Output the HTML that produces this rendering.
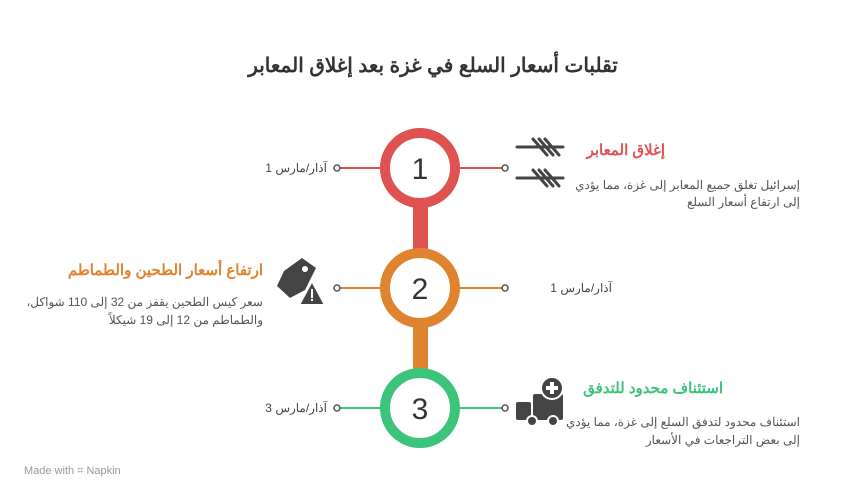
<!DOCTYPE html>
<html><head><meta charset="utf-8"><style>
body{margin:0;background:#fff;width:866px;height:498px;overflow:hidden}
svg text{font-family:"Liberation Sans","Noto Sans CJK SC",sans-serif}
</style></head><body>
<svg width="866" height="498" viewBox="0 0 866 498">
<text x="433" y="72" text-anchor="middle" font-size="20" font-weight="bold" fill="#333" direction="rtl">تقلبات أسعار السلع في غزة بعد إغلاق المعابر</text>
<!-- bars -->
<rect x="413" y="206" width="15" height="44" fill="#e05252"/>
<rect x="413" y="326" width="15" height="44" fill="#e0832f"/>
<!-- lines -->
<g stroke-width="2">
<line x1="340" y1="168" x2="382" y2="168" stroke="#e05252"/>
<line x1="458" y1="168" x2="502" y2="168" stroke="#e05252"/>
<line x1="340" y1="288" x2="382" y2="288" stroke="#e0832f"/>
<line x1="458" y1="288" x2="502" y2="288" stroke="#e0832f"/>
<line x1="340" y1="408" x2="382" y2="408" stroke="#3cc47c"/>
<line x1="458" y1="408" x2="502" y2="408" stroke="#3cc47c"/>
</g>
<g fill="#fff" stroke="#555" stroke-width="1.5">
<circle cx="337" cy="168" r="3"/><circle cx="505" cy="168" r="3"/>
<circle cx="337" cy="288" r="3"/><circle cx="505" cy="288" r="3"/>
<circle cx="337" cy="408" r="3"/><circle cx="505" cy="408" r="3"/>
</g>
<circle cx="420" cy="168" r="35" fill="#fff" stroke="#e05252" stroke-width="10"/>
<circle cx="420" cy="288" r="35" fill="#fff" stroke="#e0832f" stroke-width="10"/>
<circle cx="420" cy="408" r="35" fill="#fff" stroke="#3cc47c" stroke-width="10"/>
<g font-size="30" fill="#333" text-anchor="middle">
<text x="420" y="179">1</text><text x="420" y="299">2</text><text x="420" y="419">3</text>
</g>
<g font-size="12" fill="#444" direction="rtl">
<text x="327" y="172" text-anchor="start">آذار/مارس 1</text>
<text x="612" y="292" text-anchor="start">آذار/مارس 1</text>
<text x="327" y="412" text-anchor="start">آذار/مارس 3</text>
</g>
<!-- texts -->
<g direction="rtl">
<text x="665" y="155" font-size="15" font-weight="bold" fill="#e05252">إغلاق المعابر</text>
<text x="800" y="189" font-size="12" fill="#555">إسرائيل تغلق جميع المعابر إلى غزة، مما يؤدي</text>
<text x="800" y="206" font-size="12" fill="#555">إلى ارتفاع أسعار السلع</text>
<text x="263" y="275" font-size="15" font-weight="bold" fill="#e0832f">ارتفاع أسعار الطحين والطماطم</text>
<text x="263" y="306" font-size="12" fill="#555">سعر كيس الطحين يقفز من 32 إلى 110 شواكل،</text>
<text x="263" y="324" font-size="12" fill="#555">والطماطم من 12 إلى 19 شيكلاً</text>
<text x="723" y="393" font-size="15" font-weight="bold" fill="#3cc47c">استئناف محدود للتدفق</text>
<text x="800" y="426" font-size="12" fill="#555">استئناف محدود لتدفق السلع إلى غزة، مما يؤدي</text>
<text x="800" y="444" font-size="12" fill="#555">إلى بعض التراجعات في الأسعار</text>
</g>
<!-- icon1: barriers -->
<g stroke="#444" stroke-width="3" stroke-linecap="round">
<line x1="517" y1="147" x2="563" y2="147"/>
<line x1="533" y1="139" x2="547" y2="155"/><line x1="539" y1="139" x2="553" y2="155"/><line x1="545" y1="139" x2="559" y2="155"/>
<line x1="517" y1="178" x2="563" y2="178"/>
<line x1="533" y1="170" x2="547" y2="186"/><line x1="539" y1="170" x2="553" y2="186"/><line x1="545" y1="170" x2="559" y2="186"/>
</g>
<!-- icon2: tag with warning -->
<g fill="#444">
<path d="M302 258 L316 268 L305 290 L290 298 L277 286 L284 271 Z"/>
<circle cx="305" cy="269" r="3" fill="#fff"/>
<path d="M312 281 L325 305 L299 305 Z" stroke="#fff" stroke-width="2"/>
<rect x="311" y="289" width="2" height="9" fill="#fff"/><rect x="311" y="299" width="2" height="2" fill="#fff"/>
</g>
<!-- icon3: truck plus -->
<g fill="#444">
<rect x="516" y="402" width="15" height="18" rx="2"/>
<rect x="533" y="394" width="30" height="26" rx="2"/>
<circle cx="532" cy="421" r="5" stroke="#fff" stroke-width="2"/>
<circle cx="553" cy="421" r="5" stroke="#fff" stroke-width="2"/>
<circle cx="552" cy="388" r="11" stroke="#fff" stroke-width="2"/>
<rect x="546" y="386" width="12" height="4" fill="#fff"/><rect x="550" y="382" width="4" height="12" fill="#fff"/>
</g>
<text x="24" y="474" font-size="11" fill="#999">Made with ⌗ Napkin</text>
</svg>
</body></html>
